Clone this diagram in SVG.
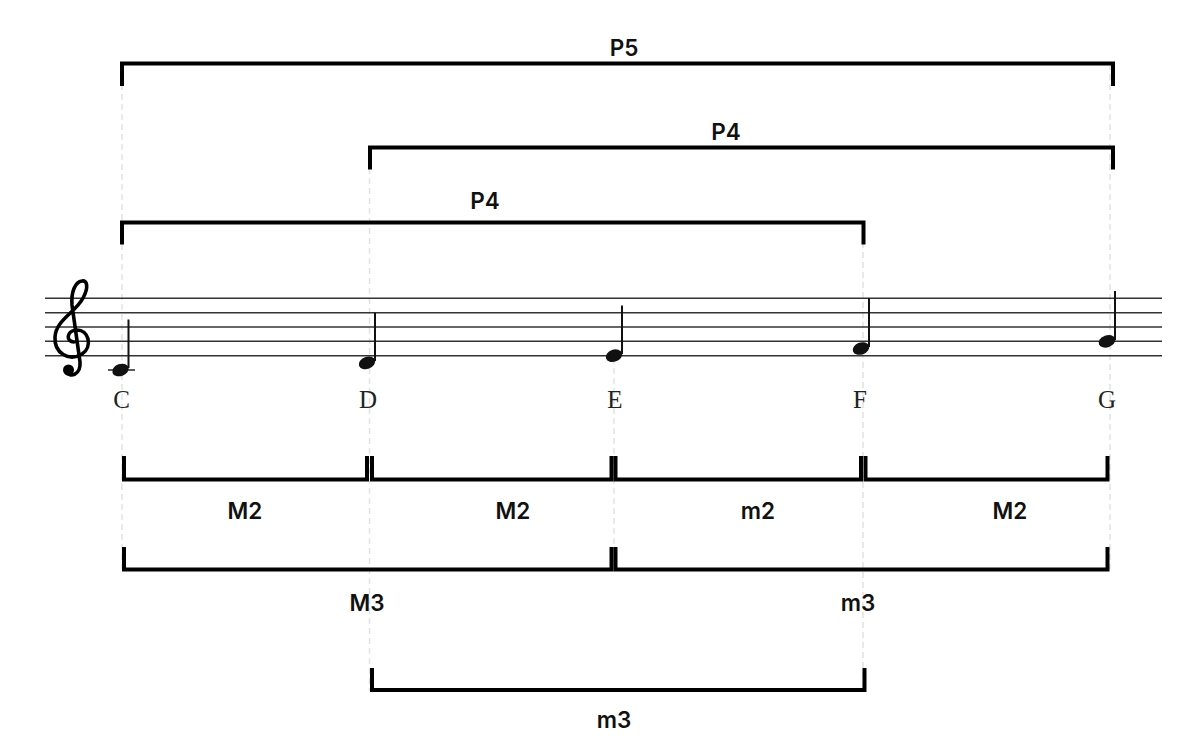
<svg xmlns="http://www.w3.org/2000/svg" width="1200" height="755" viewBox="0 0 1200 755">
<style>
  .guide{stroke:#e2e2e2;stroke-width:1.5;stroke-dasharray:6 4;fill:none}
  .staff{stroke:#333;stroke-width:1.6}
  .br{fill:none;stroke:#000;stroke-width:4;stroke-linejoin:miter;stroke-linecap:butt}
  .lbl{font-family:Inter,"Open Sans","Liberation Sans",sans-serif;font-weight:600;font-size:22.5px;fill:#111;text-anchor:middle}
  .note{font-family:"Liberation Serif","DejaVu Serif",serif;font-size:25px;fill:#222;text-anchor:middle}
  .stem{stroke:#111;stroke-width:2}
  .head{fill:#111}
</style>
<rect width="1200" height="755" fill="#fff"/>
<g id="guides">
  <line class="guide" x1="122" y1="64" x2="122" y2="569"/>
  <line class="guide" x1="369.5" y1="148" x2="369.5" y2="691"/>
  <line class="guide" x1="614" y1="358" x2="614" y2="569"/>
  <line class="guide" x1="863" y1="222" x2="863" y2="691"/>
  <line class="guide" x1="1110" y1="64" x2="1110" y2="569"/>
</g>
<g id="staff">
  <line class="staff" x1="45" y1="298.3" x2="1162" y2="298.3"/>
  <line class="staff" x1="45" y1="312.7" x2="1162" y2="312.7"/>
  <line class="staff" x1="45" y1="327" x2="1162" y2="327"/>
  <line class="staff" x1="45" y1="341.3" x2="1162" y2="341.3"/>
  <line class="staff" x1="45" y1="355.7" x2="1162" y2="355.7"/>
</g>
<g id="clef">
  <path d="M74,342 C66,342 66,331 76,330 C89,329 93,347 82,354 C69,362 54,353 55,337 C56,320 76,312 83,298 C89,287 87,280 82,281 C75,282 71,292 72,305 L80,362 C81,375 70,378 66,372" fill="none" stroke="#000" stroke-width="3.6" stroke-linecap="round" stroke-linejoin="round"/>
  <circle cx="68.5" cy="370" r="5.5"/>
</g>
<g id="note-C">
  <line class="staff" x1="108" y1="370" x2="135" y2="370"/>
  <ellipse class="head" cx="120.5" cy="370" rx="8.5" ry="6" transform="rotate(-20 120.5 370)"/>
  <line class="stem" x1="128.5" y1="368" x2="128.5" y2="319.5"/>
  <text class="note" x="121.5" y="408">C</text>
</g>
<g id="note-D">
  <ellipse class="head" cx="367" cy="362.9" rx="8.5" ry="6" transform="rotate(-20 367 362.9)"/>
  <line class="stem" x1="375" y1="361" x2="375" y2="312.7"/>
  <text class="note" x="368" y="408">D</text>
</g>
<g id="note-E">
  <ellipse class="head" cx="614" cy="355.7" rx="8.5" ry="6" transform="rotate(-20 614 355.7)"/>
  <line class="stem" x1="622" y1="354" x2="622" y2="305.5"/>
  <text class="note" x="615" y="408">E</text>
</g>
<g id="note-F">
  <ellipse class="head" cx="861" cy="348.5" rx="8.5" ry="6" transform="rotate(-20 861 348.5)"/>
  <line class="stem" x1="869" y1="347" x2="869" y2="298.3"/>
  <text class="note" x="860" y="408">F</text>
</g>
<g id="note-G">
  <ellipse class="head" cx="1107" cy="341.3" rx="8.5" ry="6" transform="rotate(-20 1107 341.3)"/>
  <line class="stem" x1="1115" y1="340" x2="1115" y2="291"/>
  <text class="note" x="1107" y="408">G</text>
</g>
<g id="connectors">
  <g id="int-P5-CG">
    <path class="br" d="M122,86 V63.5 H1113 V86"/>
    <text class="lbl" x="624" y="56">P5</text>
  </g>
  <g id="int-P4-DG">
    <path class="br" d="M370,169.5 V147.5 H1113 V169.5"/>
    <text class="lbl" x="726" y="140">P4</text>
  </g>
  <g id="int-P4-CF">
    <path class="br" d="M122,244.5 V222.5 H863.5 V244.5"/>
    <text class="lbl" x="485" y="209">P4</text>
  </g>
  <g id="int-M2-CD">
    <path class="br" d="M124,456 V479.5 H367 V456"/>
    <text class="lbl" x="245" y="519">M2</text>
  </g>
  <g id="int-M2-DE">
    <path class="br" d="M372,456 V479.5 H611.5 V456"/>
    <text class="lbl" x="513" y="519">M2</text>
  </g>
  <g id="int-m2-EF">
    <path class="br" d="M615.5,456 V479.5 H861 V456"/>
    <text class="lbl" x="758" y="519">m2</text>
  </g>
  <g id="int-M2-FG">
    <path class="br" d="M865.5,456 V479.5 H1107.5 V456"/>
    <text class="lbl" x="1010" y="519">M2</text>
  </g>
  <g id="int-M3-CE">
    <path class="br" d="M124,547 V569.5 H611.5 V547"/>
    <text class="lbl" x="367" y="611">M3</text>
  </g>
  <g id="int-m3-EG">
    <path class="br" d="M615.5,547 V569.5 H1107.5 V547"/>
    <text class="lbl" x="858" y="611">m3</text>
  </g>
  <g id="int-m3-DF">
    <path class="br" d="M372,668 V690 H864.5 V668"/>
    <text class="lbl" x="614" y="728">m3</text>
  </g>
</g>
</svg>
